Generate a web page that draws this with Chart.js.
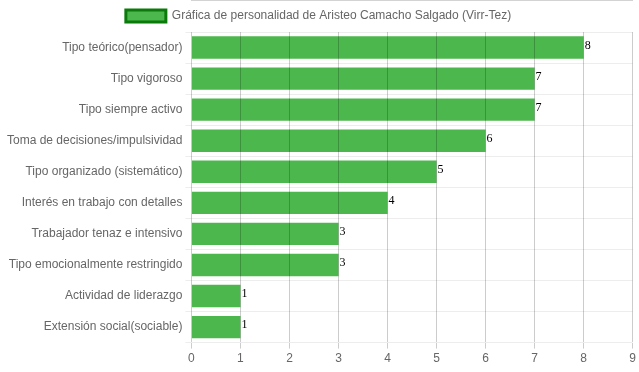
<!DOCTYPE html>
<html>
<head>
<meta charset="utf-8">
<script src="https://cdn.jsdelivr.net/npm/chart.js@4/dist/chart.umd.min.js"></script>
<style>
  html, body { margin: 0; padding: 0; background: #fff; }
  #wrap { width: 639px; height: 372px; }
</style>
</head>
<body>
<div id="wrap"><canvas id="grafico"></canvas></div>
<script>
// Datos del gráfico
const categorias = [
    'Tipo teórico(pensador)',
    'Tipo vigoroso',
    'Tipo siempre activo',
    'Toma de decisiones/impulsividad',
    'Tipo organizado (sistemático)',
    'Interés en trabajo con detalles',
    'Trabajador tenaz e intensivo',
    'Tipo emocionalmente restringido',
    'Actividad de liderazgo',
    'Extensión social(sociable)'
];
const valores = [8, 7, 7, 6, 5, 4, 3, 3, 1, 1];
const ticksX = [0, 1, 2, 3, 4, 5, 6, 7, 8, 9];

// Plugin para escribir el valor al final de cada barra
const etiquetasValor = {
    id: 'etiquetasValor',
    afterDatasetsDraw(chart) {
        const ctx = chart.ctx;
        ctx.save();
        ctx.font = '12px "Liberation Serif", serif';
        ctx.fillStyle = '#000';
        ctx.textAlign = 'left';
        ctx.textBaseline = 'middle';
        chart.getDatasetMeta(0).data.forEach((bar, i) => {
            ctx.fillText(valores[i], bar.x + 1, bar.y - 2);
        });
        ctx.restore();
    }
};

new Chart(document.getElementById('grafico'), {
    type: 'bar',
    data: {
        labels: categorias,
        datasets: [{
            label: 'Gráfica de personalidad de Aristeo Camacho Salgado (Virr-Tez)',
            data: valores,
            backgroundColor: '#4CB74C',
            borderWidth: 0
        }]
    },
    options: {
        indexAxis: 'y',
        responsive: true,
        maintainAspectRatio: false,
        animation: false,
        layout: { padding: { left: 4, right: 6, top: 0, bottom: 3 } },
        plugins: {
            legend: {
                position: 'top',
                labels: {
                    color: '#666',
                    font: { family: '"Liberation Sans", Arial, sans-serif', size: 12 },
                    boxWidth: 40,
                    generateLabels(chart) {
                        const ds = chart.data.datasets[0];
                        return [{
                            text: ds.label,
                            fillStyle: '#4CB74C',
                            strokeStyle: '#0A7A0A',
                            lineWidth: 3,
                            datasetIndex: 0,
                            fontColor: '#666'
                        }];
                    }
                }
            },
            tooltip: { enabled: false }
        },
        scales: {
            x: {
                min: 0,
                max: 9,
                afterBuildTicks(axis) {
                    axis.ticks = ticksX.map(v => ({ value: v }));
                },
                grid: { color: 'rgba(0,0,0,0.2)', z: 1, drawTicks: true, tickLength: 6 },
                border: { color: 'rgba(0,0,0,0.35)' },
                ticks: {
                    color: '#666',
                    font: { family: '"Liberation Sans", Arial, sans-serif', size: 12 }
                }
            },
            y: {
                grid: { color: 'rgba(0,0,0,0.07)', offset: true, drawTicks: true, tickLength: 6 },
                border: { display: false },
                ticks: {
                    color: '#666',
                    font: { family: '"Liberation Sans", Arial, sans-serif', size: 12 }
                }
            }
        }
    },
    plugins: [etiquetasValor]
});
</script>
</body>
</html>
